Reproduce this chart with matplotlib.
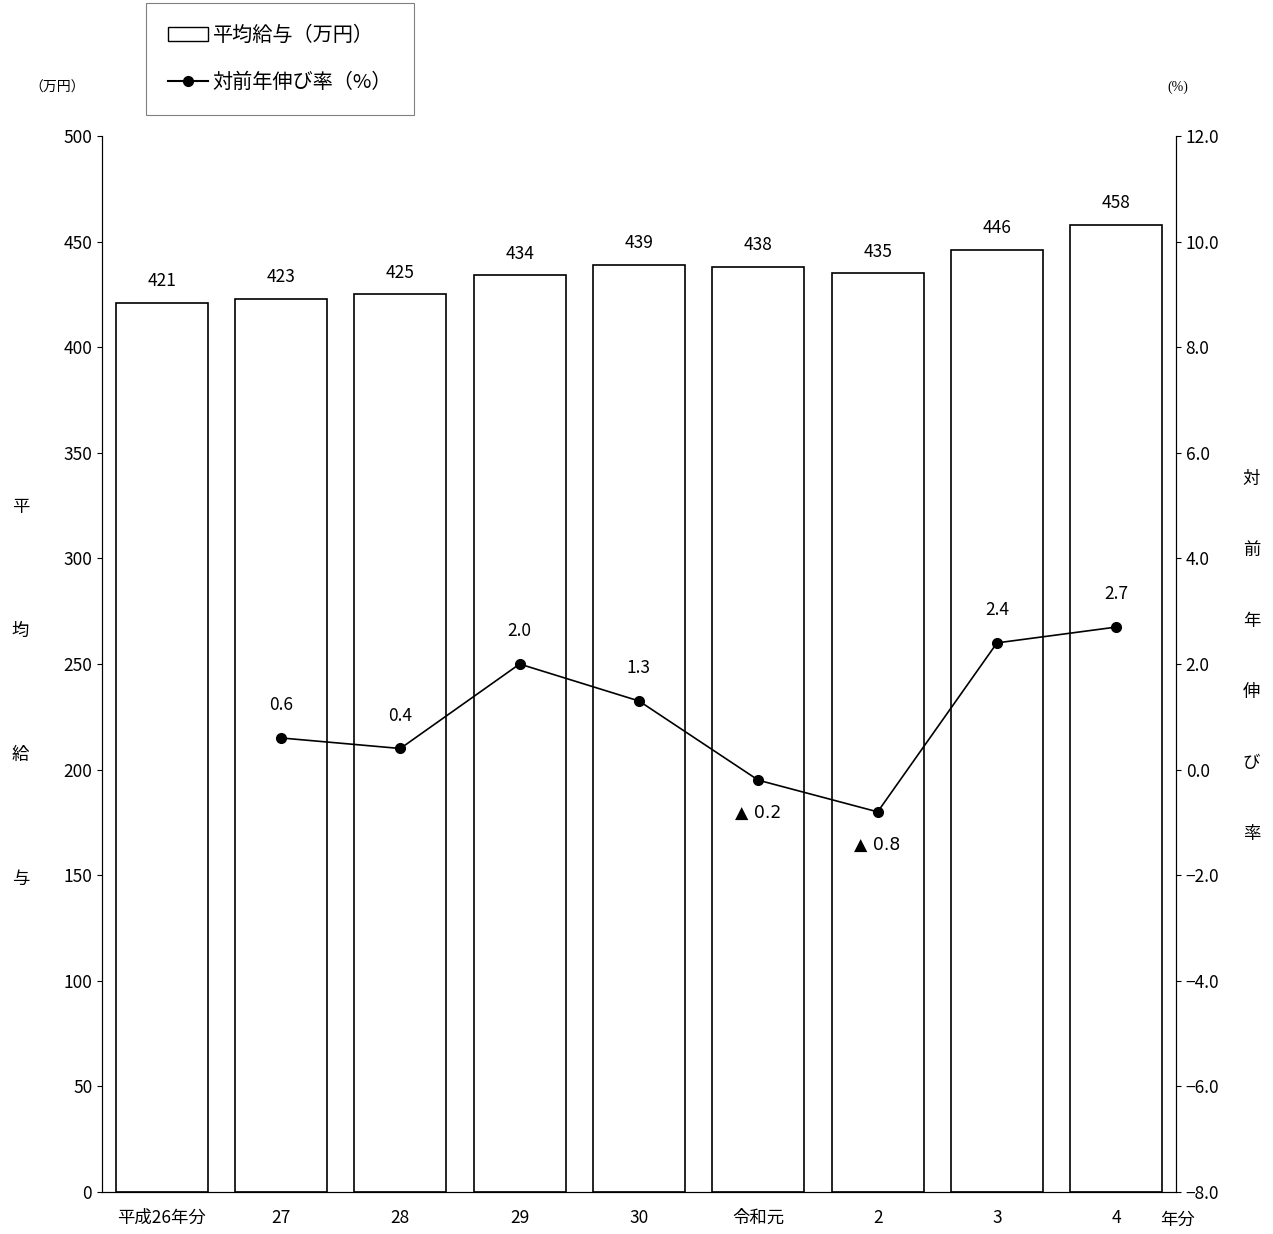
import matplotlib
matplotlib.use("Agg")
import matplotlib.pyplot as plt
from matplotlib.patches import Patch
from matplotlib.lines import Line2D

plt.rcParams['font.family'] = ['Noto Sans CJK JP', 'DejaVu Sans']

years = ["平成26年分", "27", "28", "29", "30", "令和元", "2", "3", "4"]
salary = [421, 423, 425, 434, 439, 438, 435, 446, 458]
rate_years_idx = [1, 2, 3, 4, 5, 6, 7, 8]
rates = [0.6, 0.4, 2.0, 1.3, -0.2, -0.8, 2.4, 2.7]

fig = plt.figure(figsize=(12.73, 12.34), dpi=100)
ax = fig.add_axes([0.0801, 0.0340, 0.8437, 0.8558])
x = list(range(len(years)))
ax.bar(x, salary, width=0.77, facecolor='white', edgecolor='black', linewidth=1.2)
for xi, v in zip(x, salary):
    ax.text(xi, v + 6, str(v), ha='center', va='bottom', fontsize=12.5)
ax.set_xlim(-0.5, 8.5)
ax.set_ylim(0, 500)
ax.set_yticks(range(0, 501, 50))
ax.set_xticks(x)
ax.set_xticklabels(years, fontsize=12.5)
ax.tick_params(axis='y', labelsize=12.5, direction='out')
ax.tick_params(axis='x', length=0, pad=12)
ax.spines['top'].set_visible(False)

ax2 = ax.twinx()
ax2.set_ylim(-8, 12)
ax2.set_yticks(range(-8, 13, 2))
ax2.set_yticklabels([f"{v:.1f}".replace('-', '−') for v in range(-8, 13, 2)], fontsize=12.5)
ax2.tick_params(axis='y', direction='out')
ax2.spines['top'].set_visible(False)
ax2.plot(rate_years_idx, rates, color='black', marker='o', markersize=7, linewidth=1.2)
for xi, r in zip(rate_years_idx, rates):
    if r >= 0:
        ax2.text(xi, r + 0.62, f"{r:.1f}", ha='center', va='center', fontsize=12.5)
    else:
        ax2.text(xi, r - 0.62, f"▲ {abs(r):.1f}", ha='center', va='center', fontsize=12.5,
                 family=['DejaVu Sans'])

fig.text(1160/1273, 1 - 1220/1234, "年分", ha='left', va='center', fontsize=12.5)
fig.text(0.045, 0.929, "（万円）", ha='center', va='center', fontsize=10)
fig.text(0.925, 0.929, "(%)", ha='center', va='center', fontsize=10, family=['Liberation Serif'])
for i, ch in enumerate("平均給与"):
    fig.text(0.016, 0.589 - i * 0.1005, ch, ha='center', va='center', fontsize=12.5)
for i, ch in enumerate("対前年伸び率"):
    fig.text(0.983, 0.612 - i * 0.0575, ch, ha='center', va='center', fontsize=12.5)

handles = [Patch(facecolor='white', edgecolor='black'),
           Line2D([], [], color='black', marker='o', markersize=7)]
leg = fig.legend(handles, ["平均給与（万円）", "対前年伸び率（%）"], loc='upper left',
                 bbox_to_anchor=(146/1273, 1 - 3/1234), fontsize=14.5, fancybox=False,
                 edgecolor='gray', handlelength=2.0, labelspacing=1.3, borderpad=1.1,
                 handletextpad=0.2, borderaxespad=0, framealpha=1)
leg.get_frame().set_linewidth(0.8)
leg._legend_box.align = "left"

fig.savefig("out.png", dpi=100)
